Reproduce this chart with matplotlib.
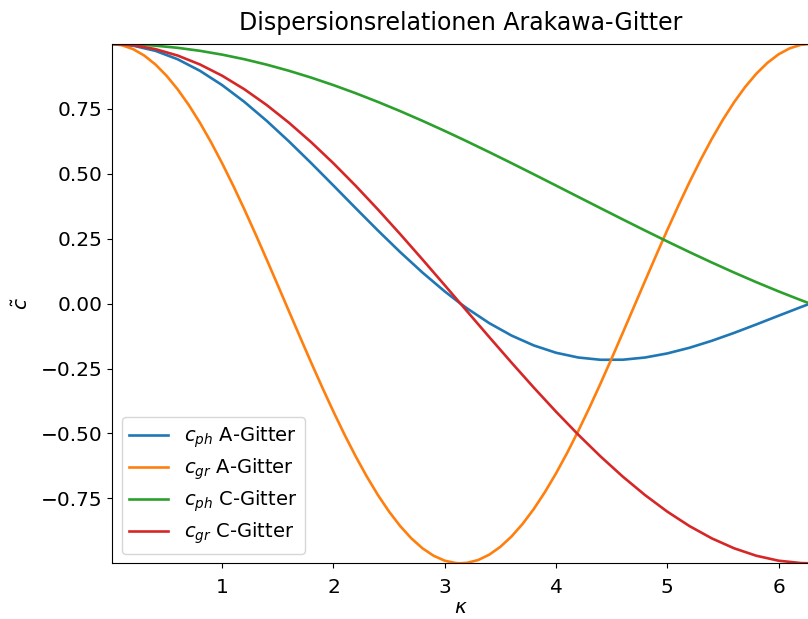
import matplotlib
matplotlib.use("Agg")
import matplotlib.pyplot as plt

# wave number kappa (sample points)
kappa = [0.01, 0.2, 0.4, 0.6, 0.8, 1.0, 1.2, 1.4, 1.6, 1.8, 2.0, 2.2, 2.4,
         2.6, 2.8, 3.0, 3.14, 3.2, 3.4, 3.6, 3.8, 4.0, 4.2, 4.4, 4.6, 4.8,
         5.0, 5.2, 5.4, 5.6, 5.8, 6.0, 6.2, 6.283]

# phase velocity, A grid
cph_a = [0.99998, 0.99335, 0.97355, 0.94107, 0.89670, 0.84147, 0.77670,
         0.70389, 0.62473, 0.54103, 0.45465, 0.36750, 0.28144, 0.19827,
         0.11964, 0.04704, 0.00051, -0.01824, -0.07516, -0.12292, -0.16101,
         -0.18920, -0.20752, -0.21627, -0.21602, -0.20753, -0.19178,
         -0.16990, -0.14310, -0.11273, -0.08010, -0.04657, -0.01340, -0.00003]

# phase velocity, C grid
cph_c = [0.99999, 0.99833, 0.99335, 0.98507, 0.97355, 0.95885, 0.94107,
         0.92031, 0.89670, 0.87036, 0.84147, 0.81019, 0.77670, 0.74120,
         0.70389, 0.66500, 0.63694, 0.62473, 0.58333, 0.54103, 0.49805,
         0.45465, 0.41105, 0.36750, 0.32422, 0.28144, 0.23939, 0.19827,
         0.15829, 0.11964, 0.08250, 0.04704, 0.01341, 0.00003]

# group velocity, C grid
cgr_c = [0.99999, 0.99500, 0.98007, 0.95534, 0.92106, 0.87758, 0.82534,
         0.76484, 0.69671, 0.62161, 0.54030, 0.45360, 0.36236, 0.26750,
         0.16997, 0.07074, 0.00080, -0.02920, -0.12884, -0.22720, -0.32329,
         -0.41615, -0.50485, -0.58850, -0.66628, -0.73739, -0.80114,
         -0.85689, -0.90407, -0.94222, -0.97096, -0.98999, -0.99914, -0.99999]

# group velocity, A grid (curves fastest, so read at finer kappa steps)
kappa_fine = [0.01, 0.1, 0.2, 0.3, 0.4, 0.5, 0.6, 0.7, 0.8, 0.9, 1.0, 1.1,
              1.2, 1.3, 1.4, 1.5, 1.6, 1.7, 1.8, 1.9, 2.0, 2.1, 2.2, 2.3,
              2.4, 2.5, 2.6, 2.7, 2.8, 2.9, 3.0, 3.1, 3.14, 3.2, 3.3, 3.4,
              3.5, 3.6, 3.7, 3.8, 3.9, 4.0, 4.1, 4.2, 4.3, 4.4, 4.5, 4.6,
              4.7, 4.8, 4.9, 5.0, 5.1, 5.2, 5.3, 5.4, 5.5, 5.6, 5.7, 5.8,
              5.9, 6.0, 6.1, 6.2, 6.283]
cgr_a = [0.99995, 0.99500, 0.98007, 0.95534, 0.92106, 0.87758, 0.82534,
         0.76484, 0.69671, 0.62161, 0.54030, 0.45360, 0.36236, 0.26750,
         0.16997, 0.07074, -0.02920, -0.12884, -0.22720, -0.32329,
         -0.41615, -0.50485, -0.58850, -0.66628, -0.73739, -0.80114,
         -0.85689, -0.90407, -0.94222, -0.97096, -0.98999, -0.99914,
         -0.99999, -0.99830, -0.98748, -0.96680, -0.93646, -0.89676,
         -0.84810, -0.79097, -0.72593, -0.65364, -0.57482, -0.49026,
         -0.40080, -0.30733, -0.21080, -0.11215, -0.01239, 0.08750,
         0.18651, 0.28366, 0.37798, 0.46852, 0.55437, 0.63469, 0.70867,
         0.77557, 0.83471, 0.88552, 0.92748, 0.96017, 0.98327, 0.99654,
         0.99999]

plt.rcParams['font.size'] = 14.5

fig = plt.figure(figsize=(8.08, 6.19), dpi=100)
ax = fig.add_axes([0.1386, 0.090, 0.864, 0.839])

lw = 1.9
ax.plot(kappa, cph_a, lw=lw, label=r'$c_{ph}$ A-Gitter')
ax.plot(kappa_fine, cgr_a, lw=lw, label=r'$c_{gr}$ A-Gitter')
ax.plot(kappa, cph_c, lw=lw, label=r'$c_{ph}$ C-Gitter')
ax.plot(kappa, cgr_c, lw=lw, label=r'$c_{gr}$ C-Gitter')

all_vals = cph_a + cgr_a + cph_c + cgr_c
ax.set_xlim(kappa[0], kappa[-1])
ax.set_ylim(min(all_vals), max(all_vals))
ax.tick_params(axis='x', pad=7)

ax.set_title('Dispersionsrelationen Arakawa-Gitter', fontsize=17, pad=10)
ax.set_xlabel(r'$\kappa$', labelpad=1)
ax.set_ylabel(r'$\tilde{c}$', labelpad=6)
ax.legend(loc='lower left', fontsize=14, labelspacing=0.33)

fig.savefig('out.png', dpi=100)
